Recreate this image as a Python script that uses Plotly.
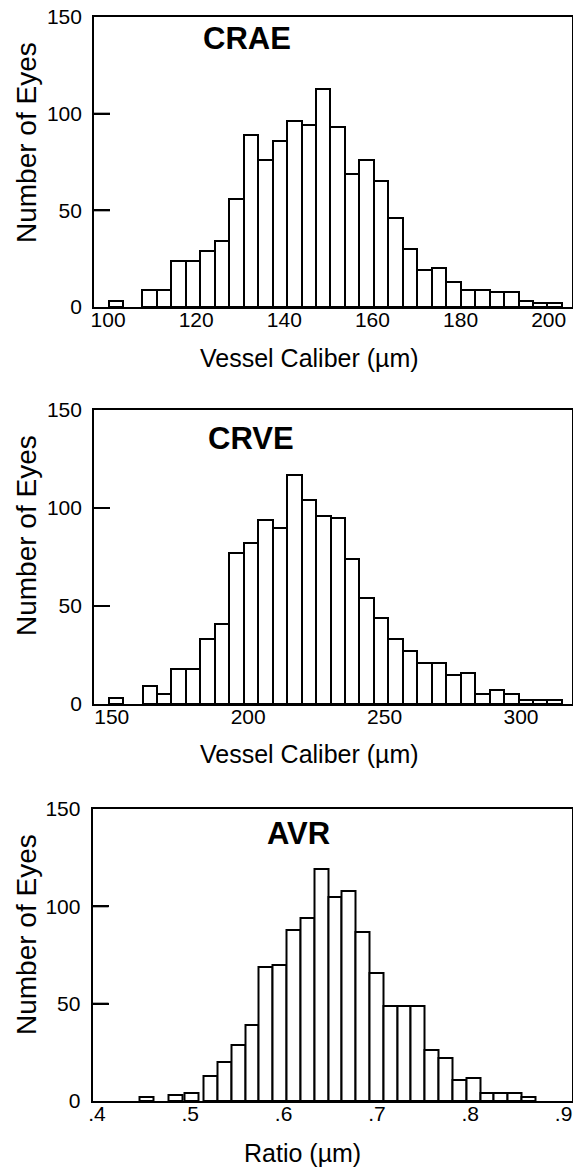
import plotly.graph_objects as go

W, H = 573, 1171

# ---- data ----
crae_bins = [101.8, 109.44, 112.72, 116.01, 119.29, 122.57, 125.86, 129.14, 132.42, 135.71,
             138.99, 142.27, 145.56, 148.84, 152.12, 155.41, 158.69, 161.97, 165.26,
             168.54, 171.82, 175.11, 178.39, 181.67, 184.96, 188.24, 191.52, 194.81,
             198.09, 201.37]
crae_counts = [3, 9, 9, 24, 24, 29, 34, 56, 89, 76, 86, 96, 94, 113, 93, 69, 76, 65, 46,
               30, 19, 20, 13, 9, 9, 8, 8, 3, 2, 2]
crae_width = 3.28

crve_bins = [151.6, 163.95, 169.25, 174.55, 179.85, 185.15, 190.45, 195.75, 201.05, 206.35,
             211.65, 216.95, 222.25, 227.55, 232.85, 238.15, 243.45, 248.75, 254.05,
             259.35, 264.65, 269.95, 275.25, 280.55, 285.85, 291.15, 296.45, 301.75,
             307.05, 312.35]
crve_counts = [3, 9, 5, 18, 18, 33, 41, 77, 82, 94, 90, 117, 104, 96, 95, 74, 54, 44, 33,
               27, 21, 21, 15, 16, 5, 7, 5, 2, 2, 2]
crve_width = 5.30

avr_bins = [0.453, 0.4845, 0.5017, 0.5217, 0.5365, 0.5513, 0.5662, 0.5810, 0.5958, 0.6106,
            0.6254, 0.6402, 0.6550, 0.6698, 0.6847, 0.6995, 0.7143, 0.7291, 0.7439,
            0.7587, 0.7735, 0.7883, 0.8032, 0.8180, 0.8328, 0.8476, 0.8624]
avr_counts = [2, 3, 4, 13, 20, 29, 39, 69, 70, 88, 94, 119, 105, 108, 87, 66, 49, 49, 49,
              26, 22, 11, 12, 4, 4, 4, 2]
avr_width = 0.0148

y_ticks = [0, 50, 100, 150]
y_ticklabels = ["0 ", "50 ", "100 ", "150 "]
crae_xticks = [100, 120, 140, 160, 180, 200]
crve_xticks = [150, 200, 250, 300]
avr_xticks = [0.4, 0.5, 0.6, 0.7, 0.8, 0.9]
avr_xticklabels = [".4", ".5", ".6", ".7", ".8", ".9"]

titles = ["CRAE", "CRVE", "AVR"]
xtitles = ["Vessel Caliber (µm)", "Vessel Caliber (µm)", "Ratio (µm)"]
ytitle = "Number of Eyes"

FONT = "Liberation Sans, Arial, Helvetica, sans-serif"
TICKLEN = 16

# ---- layout geometry (pixels) ----
panels = [
    dict(top=17, bottom=307, left=94, right=572, xr=[96.8, 205.3]),
    dict(top=410, bottom=704, left=94, right=572, xr=[143.5, 318.7]),
    dict(top=809, bottom=1101, left=92.5, right=572, xr=[0.3953, 0.909]),
]
title_pos = [(246.5, 38), (251, 438), (298, 833)]
xtitle_pos = [(309, 358), (309, 754), (303, 1153)]

def py(p):
    return 1 - p / H

def px(p):
    return p / W

fig = go.Figure()
series = [(crae_bins, crae_counts, crae_width),
          (crve_bins, crve_counts, crve_width),
          (avr_bins, avr_counts, avr_width)]

annotations = []
shapes = []
for i, ((bx, by, bw), pn) in enumerate(zip(series, panels)):
    k = "" if i == 0 else str(i + 1)
    fig.add_trace(go.Bar(
        x=bx, y=by, width=[bw] * len(bx),
        marker=dict(color="white", line=dict(color="black", width=2)),
        xaxis="x" + k, yaxis="y" + k, showlegend=False,
    ))
    xa = dict(domain=[px(pn["left"]), px(pn["right"])], range=pn["xr"],
              anchor="y" + k, showline=True, linecolor="black", linewidth=2,
              mirror=True, showgrid=False, zeroline=False, ticks="",
              automargin=False, ticklabelstandoff=-7,
              tickfont=dict(family=FONT, size=21, color="black"))
    if i == 0:
        xa.update(tickmode="array", tickvals=crae_xticks)
    elif i == 1:
        xa.update(tickmode="array", tickvals=crve_xticks)
    else:
        xa.update(tickmode="array", tickvals=avr_xticks, ticktext=avr_xticklabels)
    ya = dict(domain=[py(pn["bottom"]), py(pn["top"])], range=[0, 150],
              anchor="x" + k, showline=True, linecolor="black", linewidth=2,
              mirror=True, showgrid=False, zeroline=False,
              ticks="inside", ticklen=TICKLEN, tickwidth=2, tickcolor="rgb(0,0,0)",
              tickmode="array", tickvals=y_ticks, ticktext=y_ticklabels,
              automargin=False,
              tickfont=dict(family=FONT, size=21, color="black"))
    fig.update_layout(**{"xaxis" + k: xa, "yaxis" + k: ya})

    # inward tick marks on the y axis, placed through the axis scale
    frac = TICKLEN / (pn["right"] - pn["left"])
    for v in y_ticks[1:-1]:
        shapes.append(dict(type="line", xref="x" + k + " domain", yref="y" + k,
                           x0=0, x1=frac, y0=v, y1=v,
                           line=dict(color="rgb(0,0,0)", width=2)))

    annotations.append(dict(text="<b>" + titles[i] + "</b>", x=px(title_pos[i][0]),
                            y=py(title_pos[i][1]), xref="paper", yref="paper",
                            showarrow=False, xanchor="center", yanchor="middle",
                            font=dict(family=FONT, size=31, color="black")))
    annotations.append(dict(text=xtitles[i], x=px(xtitle_pos[i][0]),
                            y=py(xtitle_pos[i][1]), xref="paper", yref="paper",
                            showarrow=False, xanchor="center", yanchor="middle",
                            font=dict(family=FONT, size=25, color="black")))
    annotations.append(dict(text=ytitle, x=px(26), y=py(pn["top"] + 126),
                            xref="paper", yref="paper", textangle=-90,
                            showarrow=False, xanchor="center", yanchor="middle",
                            font=dict(family=FONT, size=28, color="black")))

fig.update_layout(width=W, height=H, margin=dict(l=0, r=0, t=0, b=0, autoexpand=False),
                  paper_bgcolor="white", plot_bgcolor="white",
                  bargap=0, annotations=annotations, shapes=shapes)

fig.write_html("out.html", config={"displayModeBar": False},
               post_script="document.body.style.margin='0';document.body.style.overflow='hidden';")
